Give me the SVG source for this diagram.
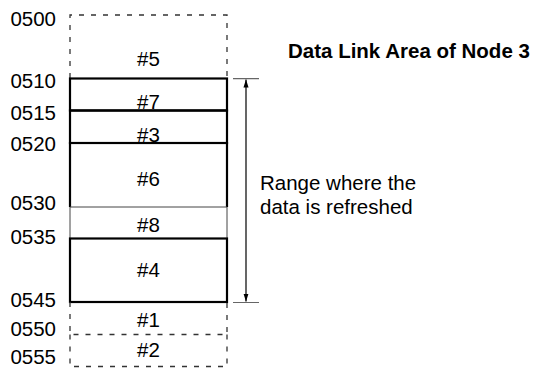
<svg xmlns="http://www.w3.org/2000/svg" width="534" height="368" viewBox="0 0 534 368">
<style>
text{font-family:"Liberation Sans",Arial,sans-serif;font-size:20.5px;fill:#000}
.c{text-anchor:middle}
.e{text-anchor:end}
.b{font-weight:bold}
.thick{fill:none;stroke:#000;stroke-width:2.2}
.thin{fill:none;stroke:#444;stroke-width:1}
.dash{fill:none;stroke:#333;stroke-width:1.3;stroke-dasharray:5,7}
.tick{fill:none;stroke:#666;stroke-width:1.2}
.arr{fill:none;stroke:#000;stroke-width:1.2;marker-start:url(#ah);marker-end:url(#ah)}
</style>
<defs>
<marker id="ah" viewBox="0 0 10 10" refX="10" refY="5" markerWidth="8" markerHeight="8" markerUnits="userSpaceOnUse" orient="auto-start-reverse">
<path d="M0,1.8 L10,5 L0,8.2 Z" fill="#000"/>
</marker>
</defs>
<g id="addresses">
<text class="e" x="56" y="26">0500</text>
<text class="e" x="56" y="87.5">0510</text>
<text class="e" x="56" y="119.5">0515</text>
<text class="e" x="56" y="151">0520</text>
<text class="e" x="56" y="210">0530</text>
<text class="e" x="56" y="244">0535</text>
<text class="e" x="56" y="307">0545</text>
<text class="e" x="56" y="336">0550</text>
<text class="e" x="56" y="363.5">0555</text>
</g>
<g id="node5">
<path class="dash" d="M70,78 V15 H227 V78"/>
<text class="c" x="148.5" y="66">#5</text>
</g>
<g id="node7">
<rect class="thick" x="70" y="78.5" width="157" height="32"/>
<text class="c" x="148.5" y="109">#7</text>
</g>
<g id="node3">
<rect class="thick" x="70" y="110.5" width="157" height="32.5"/>
<text class="c" x="148.5" y="141.5">#3</text>
</g>
<g id="node6">
<path class="thick" d="M70,207 V143 H227 V207"/>
<text class="c" x="148.5" y="186">#6</text>
</g>
<g id="node8">
<path class="thin" d="M70,207 H227 M70,207 V238.5 M227,207 V238.5"/>
<text class="c" x="148.5" y="232">#8</text>
</g>
<g id="node4">
<rect class="thick" x="70" y="238.5" width="157" height="63.5"/>
<text class="c" x="148.5" y="277">#4</text>
</g>
<g id="node1">
<path class="dash" d="M70,302 V334.5 H227 V302"/>
<text class="c" x="148.5" y="327">#1</text>
</g>
<g id="node2">
<path class="dash" d="M70,334.5 V366.5 H227 V334.5"/>
<text class="c" x="148.5" y="357">#2</text>
</g>
<g id="title">
<text class="b" x="288" y="58">Data Link Area of Node 3</text>
</g>
<g id="range-label">
<text x="260" y="190">Range where the</text>
<text x="260" y="214">data is refreshed</text>
</g>
<g id="connectors">
<path class="tick" d="M233,78.7 H259 M233,302.5 H259"/>
<path class="arr" d="M246,79.5 V301.5"/>
</g>
</svg>
